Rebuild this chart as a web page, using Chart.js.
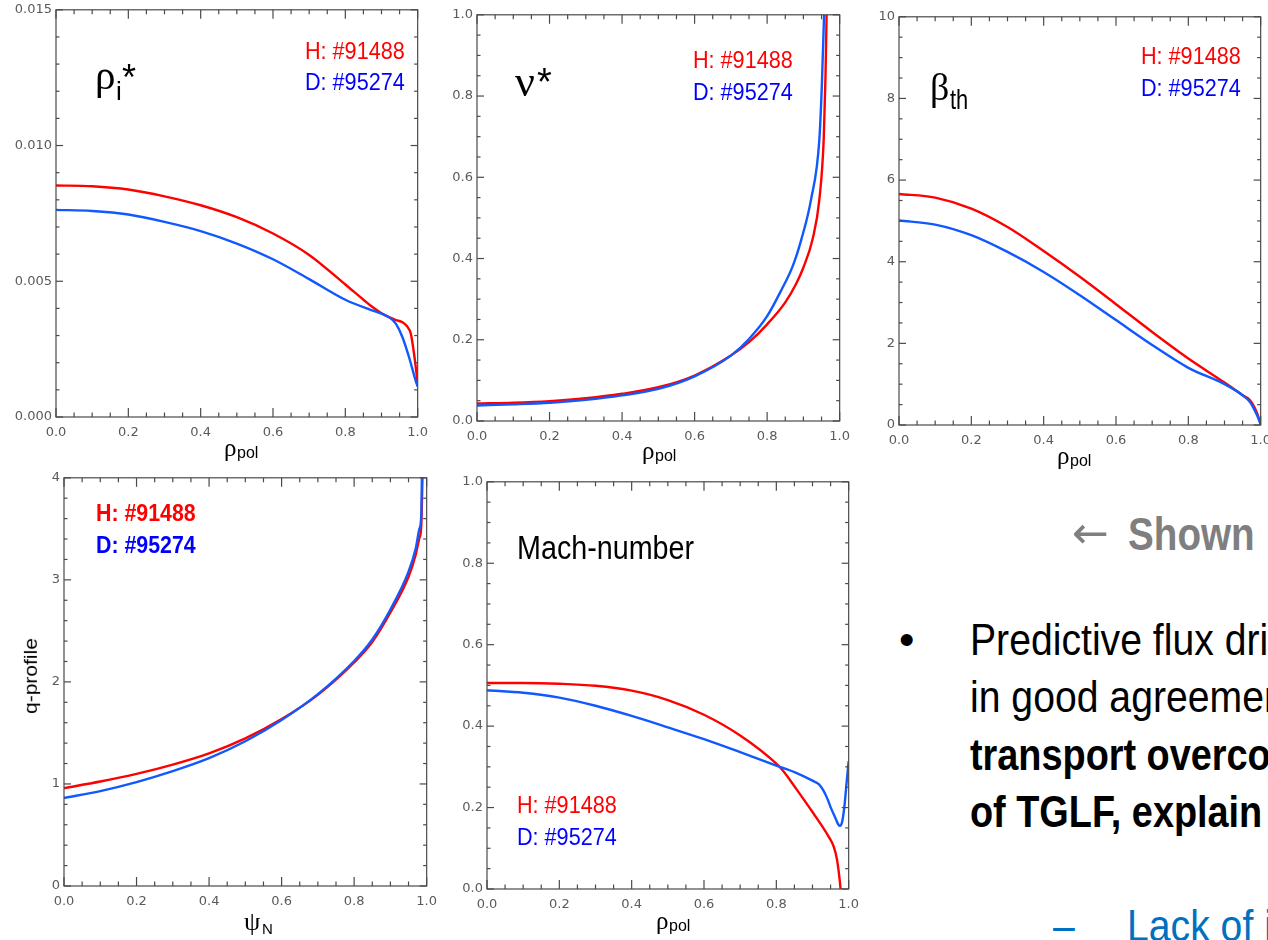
<!DOCTYPE html>
<html>
<head>
<meta charset="utf-8">
<title>H vs D profiles</title>
<script src="https://cdn.jsdelivr.net/npm/chart.js@4.4.1/dist/chart.umd.min.js"></script>
<style>
  html, body { margin: 0; padding: 0; background: #fff; overflow: hidden; }
  #page { position: relative; width: 1268px; height: 940px; overflow: hidden;
          font-family: "Liberation Sans", Arial, sans-serif; color: #000; }
  .panel { position: absolute; }
  .t { position: absolute; white-space: nowrap; line-height: 1; transform-origin: 0 0; }
</style>
</head>
<body>
<div id="page"></div>
<script>
// ── Data ──────────────────────────────────────────────────────────────────────
// rho_i* vs rho_pol
const rhoiH_x = [0, 0.1, 0.2, 0.3, 0.4, 0.5, 0.6, 0.7, 0.8, 0.85, 0.876, 0.9, 0.922, 0.94, 0.958, 0.97, 0.981, 0.99, 1.0];
const rhoiH_y = [0.00853, 0.00850, 0.00838, 0.00813, 0.00780, 0.00736, 0.00676, 0.00597, 0.00488, 0.00432, 0.00404, 0.00382, 0.00367, 0.00357, 0.00349, 0.00335, 0.00307, 0.00233, 0.00125];
const rhoiD_x = [0, 0.1, 0.2, 0.3, 0.4, 0.5, 0.6, 0.7, 0.8, 0.876, 0.9, 0.922, 0.94, 0.958, 0.976, 0.994, 1.0];
const rhoiD_y = [0.00763, 0.00759, 0.00746, 0.00719, 0.00685, 0.00639, 0.00581, 0.00508, 0.00432, 0.00392, 0.00381, 0.00367, 0.00343, 0.00294, 0.00221, 0.00136, 0.00112];

// nu* vs rho_pol
const nuH_x = [0, 0.1, 0.2, 0.3, 0.4, 0.5, 0.6, 0.7, 0.75, 0.8, 0.85, 0.88, 0.9, 0.926, 0.944, 0.956, 0.961, 0.964, 0.967];
const nuH_y = [0.043, 0.045, 0.049, 0.056, 0.067, 0.083, 0.112, 0.161, 0.194, 0.238, 0.292, 0.338, 0.378, 0.45, 0.545, 0.693, 0.85, 1.0, 1.12];
const nuD_x = [0, 0.1, 0.2, 0.3, 0.4, 0.5, 0.6, 0.7, 0.75, 0.8, 0.839, 0.87, 0.894, 0.921, 0.944, 0.951, 0.957, 0.961];
const nuD_y = [0.038, 0.041, 0.045, 0.052, 0.063, 0.079, 0.110, 0.161, 0.202, 0.258, 0.322, 0.38, 0.446, 0.545, 0.693, 0.83, 1.0, 1.12];

// beta_th vs rho_pol
const betaX   = [0, 0.1, 0.2, 0.3, 0.4, 0.5, 0.6, 0.7, 0.8, 0.9, 0.95, 0.97, 0.99, 1.0];
const betaH_y = [5.66, 5.57, 5.30, 4.85, 4.26, 3.63, 2.96, 2.28, 1.63, 1.04, 0.73, 0.61, 0.29, 0.02];
const betaD_y = [5.01, 4.91, 4.65, 4.24, 3.75, 3.18, 2.57, 1.96, 1.40, 1.00, 0.73, 0.57, 0.24, 0.02];

// q-profile vs psi_N
const qH_x = [0, 0.1, 0.2, 0.3, 0.4, 0.5, 0.6, 0.7, 0.8, 0.85, 0.9, 0.95, 0.97, 0.98, 0.985, 0.99];
const qH_y = [0.959, 1.024, 1.099, 1.19, 1.30, 1.447, 1.636, 1.873, 2.19, 2.39, 2.68, 3.03, 3.25, 3.41, 3.52, 4.3];
const qD_x = [0, 0.1, 0.2, 0.3, 0.4, 0.5, 0.6, 0.7, 0.8, 0.85, 0.9, 0.95, 0.97, 0.98, 0.985, 0.988];
const qD_y = [0.862, 0.93, 1.018, 1.125, 1.252, 1.418, 1.626, 1.88, 2.205, 2.416, 2.71, 3.08, 3.31, 3.5, 3.62, 4.3];

// Mach number vs rho_pol
const machH_x = [0, 0.1, 0.2, 0.3, 0.4, 0.5, 0.6, 0.7, 0.8, 0.818, 0.855, 0.9, 0.945, 0.959, 0.968, 0.977, 0.982];
const machH_y = [0.506, 0.506, 0.504, 0.499, 0.487, 0.464, 0.428, 0.377, 0.308, 0.291, 0.246, 0.189, 0.128, 0.1035, 0.071, 0.006, -0.05];
const machD_x = [0, 0.1, 0.2, 0.3, 0.4, 0.5, 0.6, 0.7, 0.8, 0.85, 0.9, 0.918, 0.93, 0.941, 0.95, 0.962, 0.971, 0.976, 0.982, 0.988, 0.994, 1.0];
const machD_y = [0.488, 0.482, 0.470, 0.450, 0.425, 0.397, 0.368, 0.336, 0.303, 0.287, 0.266, 0.257, 0.242, 0.222, 0.201, 0.177, 0.159, 0.155, 0.165, 0.201, 0.258, 0.314];

const shotH = 'H: #91488';
const shotD = 'D: #95274';

const RED  = '#ff0000';
const BLUE = '#1158ff';
const SERIF = '"Liberation Serif", "Times New Roman", serif';

// ── Frame + inward ticks on all four sides (IDL style) ───────────────────────
const frameTicks = {
  id: 'frameTicks',
  afterDatasetsDraw(chart, args, opts) {
    const { ctx, chartArea: a, scales: { x, y } } = chart;
    ctx.save();
    ctx.strokeStyle = '#4a4a4a';
    ctx.lineWidth = 1.2;
    ctx.strokeRect(a.left, a.top, a.right - a.left, a.bottom - a.top);
    const seg = (x0, y0, x1, y1) => { ctx.beginPath(); ctx.moveTo(x0, y0); ctx.lineTo(x1, y1); ctx.stroke(); };
    const each = (min, max, minor, major, fn) => {
      const n = Math.round((max - min) / minor);
      for (let i = 0; i <= n; i++) {
        const v = min + i * minor;
        const r = v / major;
        fn(v, Math.abs(r - Math.round(r)) < 1e-6);
      }
    };
    each(x.min, x.max, opts.xMinor, opts.xMajor, (v, major) => {
      const p = x.getPixelForValue(v);
      const len = major ? 9 : 4.5;
      seg(p, a.bottom, p, a.bottom - len);
      seg(p, a.top, p, a.top + len);
    });
    each(y.min, y.max, opts.yMinor, opts.yMajor, (v, major) => {
      const p = y.getPixelForValue(v);
      const len = major ? 7 : 3.5;
      seg(a.left, p, a.left + len, p);
      seg(a.right, p, a.right - len, p);
    });
    ctx.restore();
  }
};

// ── Panels ───────────────────────────────────────────────────────────────────
const page = document.getElementById('page');
const AXW = 50, AXH = 30, PADT = 10, PADR = 14;

function makePanel(p) {
  const [x0, x1, y0, y1] = p.box;
  const div = document.createElement('div');
  div.className = 'panel';
  div.style.left = (x0 - AXW) + 'px';
  div.style.top = (y0 - PADT) + 'px';
  div.style.width = (AXW + (x1 - x0) + PADR) + 'px';
  div.style.height = (PADT + (y1 - y0) + AXH) + 'px';
  const canvas = document.createElement('canvas');
  div.appendChild(canvas);
  page.appendChild(div);

  const tickFont = { family: '"DejaVu Sans", sans-serif', size: 13 };
  new Chart(canvas, {
    type: 'line',
    data: {
      datasets: p.series.map(([xs, ys, color]) => ({
        data: xs.map((x, i) => ({ x, y: ys[i] })),
        borderColor: color,
        borderWidth: 2.4,
        pointRadius: 0,
        fill: false,
        cubicInterpolationMode: 'monotone',
        clip: 0,
      }))
    },
    options: {
      responsive: true,
      maintainAspectRatio: false,
      animation: false,
      events: [],
      layout: { padding: { top: PADT, right: PADR, left: 0, bottom: 0 } },
      plugins: {
        legend: { display: false },
        tooltip: { enabled: false },
        frameTicks: { xMinor: 0.05, xMajor: 0.2, yMinor: p.yMinor, yMajor: p.yStep },
      },
      scales: {
        x: {
          type: 'linear', min: 0, max: 1,
          grid: { display: false, drawTicks: false },
          border: { display: false },
          ticks: { stepSize: 0.2, autoSkip: false, maxRotation: 0, padding: 8,
                   color: '#5a5a5a', font: tickFont, callback: v => v.toFixed(1) },
          afterFit: s => { s.height = AXH; },
        },
        y: {
          type: 'linear', min: p.y[0], max: p.y[1],
          grid: { display: false, drawTicks: false },
          border: { display: false },
          ticks: { stepSize: p.yStep, autoSkip: false, padding: 4,
                   color: '#5a5a5a', font: tickFont, callback: v => v.toFixed(p.yDigits) },
          afterFit: s => { s.width = AXW; },
        }
      }
    },
    plugins: [frameTicks]
  });
}

const panels = [
  { box: [56, 422, 8, 417],    y: [0, 0.015], yStep: 0.005, yMinor: 0.001, yDigits: 3,
    series: [[rhoiD_x, rhoiD_y, BLUE], [rhoiH_x, rhoiH_y, RED]] },
  { box: [477, 844, 13, 421],  y: [0, 1],     yStep: 0.2,   yMinor: 0.05,  yDigits: 1,
    series: [[nuD_x, nuD_y, BLUE], [nuH_x, nuH_y, RED]] },
  { box: [899, 1265, 15, 425], y: [0, 10],    yStep: 2,     yMinor: 0.5,   yDigits: 0,
    series: [[betaX, betaD_y, BLUE], [betaX, betaH_y, RED]] },
  { box: [64, 431, 476, 886],  y: [0, 4],     yStep: 1,     yMinor: 0.2,   yDigits: 0,
    series: [[qD_x, qD_y, BLUE], [qH_x, qH_y, RED]] },
  { box: [487, 853, 480, 889], y: [0, 1],     yStep: 0.2,   yMinor: 0.05,  yDigits: 1,
    series: [[machD_x, machD_y, BLUE], [machH_x, machH_y, RED]] },
];
panels.forEach(makePanel);

// ── Text overlays ────────────────────────────────────────────────────────────
function addText(html, x, base, size, style) {
  const el = document.createElement('div');
  el.className = 't';
  el.innerHTML = html;
  el.style.left = x + 'px';
  el.style.top = (base - 0.85 * size) + 'px';
  el.style.fontSize = size + 'px';
  Object.assign(el.style, style || {});
  page.appendChild(el);
  return el;
}

function legend(x, baseH, baseD, bold) {
  const st = { transform: bold ? 'scaleX(0.89)' : 'scaleX(0.9)', fontWeight: bold ? 'bold' : 'normal' };
  addText(shotH, x, baseH, 24, Object.assign({ color: '#ff0000' }, st));
  addText(shotD, x, baseD, 24, Object.assign({ color: '#0000ff' }, st));
}

function rhoPol(x, base) {
  addText('ρ', x, base, 25, { fontFamily: SERIF });
  addText('pol', x + 13, base + 2, 16);
}

// panel labels
addText('ρ', 95, 90, 41, { fontFamily: SERIF });
addText('i', 116, 100, 26);
addText('*', 122, 91, 36);
addText('ν', 515, 97, 44, { fontFamily: SERIF });
addText('*', 537, 95, 38);
addText('β', 930, 100, 38, { fontFamily: SERIF });
addText('th', 950, 110, 28, { transform: 'scaleX(0.78)' });
addText('Mach-number', 517, 559, 33, { transform: 'scaleX(0.87)' });

legend(305, 59.3, 90.7, false);
legend(693, 68.3, 100, false);
legend(1141, 64.3, 96.7, false);
legend(96, 521.7, 553.3, true);
legend(517, 813.3, 845, false);

// axis titles
rhoPol(224, 456.7);
rhoPol(642, 459.5);
rhoPol(1057, 464.5);
rhoPol(656, 929.5);
addText('ψ', 244, 931, 26, { fontFamily: SERIF });
addText('N', 262, 934, 15);
const qLab = addText('q-profile', 0, 0, 21);
Object.assign(qLab.style, { left: '30px', top: '676px', transformOrigin: '50% 50%',
  transform: 'translate(-50%, -50%) rotate(-90deg) scaleY(0.88)' });

// slide text on the right
addText('←', 1072, 548, 44, { color: '#7f7f7f', fontFamily: '"DejaVu Sans", sans-serif' });
addText('Shown', 1128, 550, 46, { color: '#7f7f7f', fontWeight: 'bold', transform: 'scaleX(0.84)' });
addText('•', 899, 655, 44);
const sq = { transform: 'scaleX(0.89)' };
addText('Predictive flux dri', 970, 655, 44, sq);
addText('in good agreemen', 970, 712, 44, sq);
addText('transport overco', 970, 770, 44, { fontWeight: 'bold', transform: 'scaleX(0.86)' });
addText('of TGLF, explain', 970, 827, 44, { fontWeight: 'bold', transform: 'scaleX(0.86)' });
addText('–', 1053, 941, 44, { color: '#0070c0', transform: 'scaleX(0.89)' });
addText('Lack of i', 1127, 941, 44, { color: '#0070c0', transform: 'scaleX(0.89)' });
</script>
</body>
</html>
